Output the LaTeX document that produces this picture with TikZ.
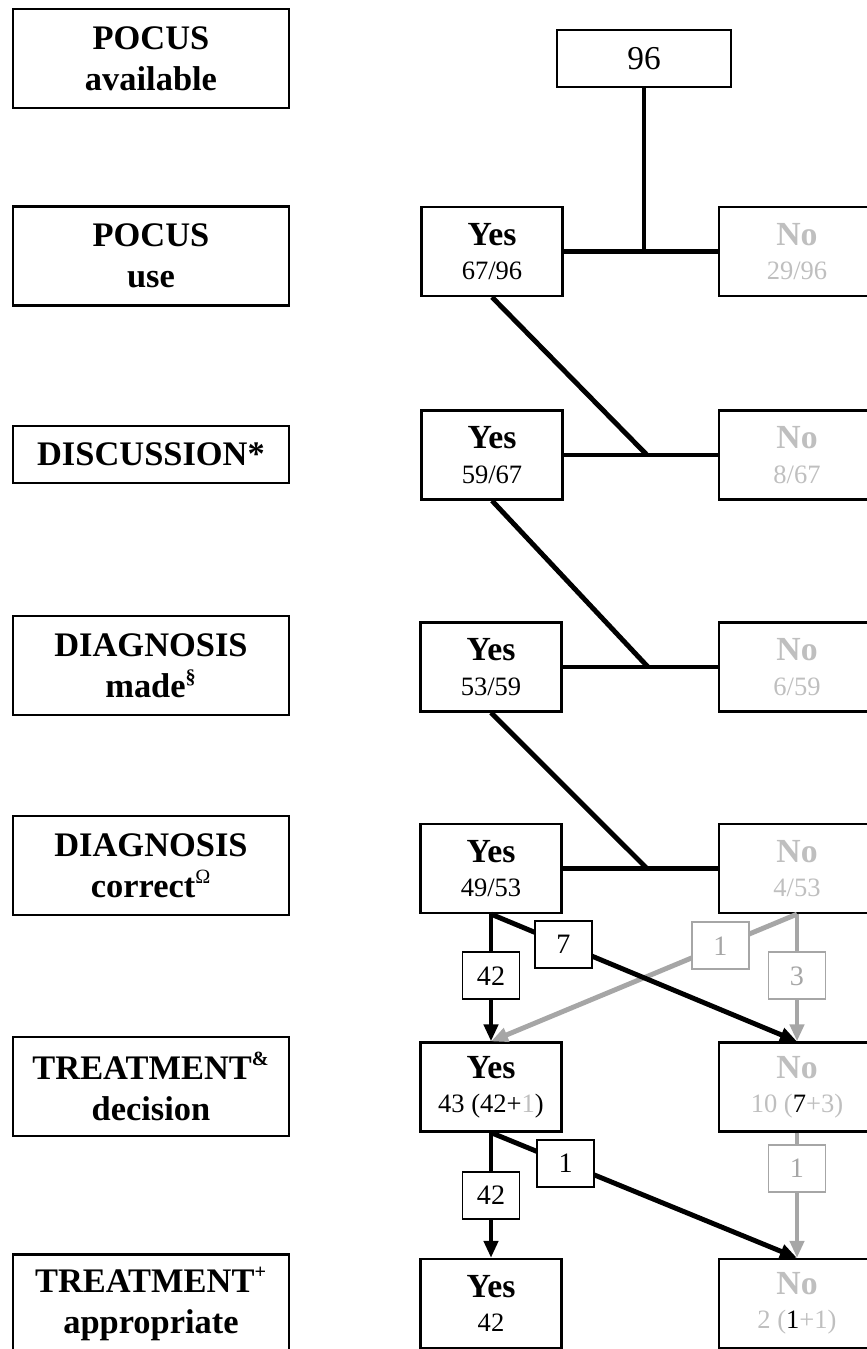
\documentclass[tikz,border=0pt]{standalone}
\usepackage{fontspec}
\setmainfont{Liberation Serif}
\usetikzlibrary{arrows.meta}
\definecolor{lightgrey}{RGB}{191,191,191}
\definecolor{midgrey}{RGB}{166,166,166}
\newcommand{\answer}[2]{{\bfseries\fontsize{19.2}{19.3}\selectfont #1}\\#2}
\newcommand{\footmark}[1]{\textsuperscript{\fontsize{11.5}{12}\selectfont #1}}

\begin{document}
\begin{tikzpicture}[x=0.02cm,y=-0.02cm,
    stage/.style={draw,line width=1.3pt,minimum width=5.52cm,minimum height=1.98cm,
      align=center,font=\bfseries\fontsize{19.6}{23.3}\selectfont},
    yesbox/.style={draw,line width=1.3pt,minimum width=2.82cm,minimum height=1.78cm,
      align=center,font=\fontsize{15.1}{19.6}\selectfont},
    nobox/.style={yesbox,minimum width=3.12cm,draw=black,text=lightgrey},
    count/.style={draw,fill=white,line width=1.1pt,minimum width=1.14cm,minimum height=0.94cm,
      inner sep=0pt,font=\fontsize{16}{18}\selectfont},
    flow/.style={line width=2.8pt},
    arrow/.style={flow,-{Triangle[length=0.34cm,width=0.28cm]}}]
  \useasboundingbox (0,0) rectangle (866,1349);

  % stages
  \node[stage] (avail) at (151,58.5) {POCUS\\available};
  \node[stage] (use) at (151,256) {POCUS\\use};
  \node[stage,minimum height=1.14cm] (disc) at (151,454.5) {DISCUSSION*};
  \node[stage] (made) at (151,665.5) {DIAGNOSIS\\made\footmark{§}};
  \node[stage] (correct) at (151,865.5) {DIAGNOSIS\\correct\footmark{\mdseries Ω}};
  \node[stage] (decision) at (151,1086.5) {TREATMENT\footmark{\&}\\decision};
  \node[stage] (approp) at (151,1304) {TREATMENT\footmark{+}\\appropriate};

  % counts
  \node[yesbox,minimum width=3.48cm,minimum height=1.14cm,font=\fontsize{19}{20}\selectfont]
    (total) at (644,58.5) {96};
  \node[yesbox] (yes1) at (492,251.5) {\answer{Yes}{67/96}};
  \node[nobox] (no1) at (797,251.5) {\answer{No}{29/96}};
  \node[yesbox] (yes2) at (492,455) {\answer{Yes}{59/67}};
  \node[nobox] (no2) at (797,455) {\answer{No}{8/67}};
  \node[yesbox] (yes3) at (491,667) {\answer{Yes}{53/59}};
  \node[nobox] (no3) at (797,667) {\answer{No}{6/59}};
  \node[yesbox] (yes4) at (491,868.5) {\answer{Yes}{49/53}};
  \node[nobox] (no4) at (797,868.5) {\answer{No}{4/53}};
  \node[yesbox] (yes5) at (491,1087) {\answer{Yes}{43 (42+\textcolor{lightgrey}{1})}};
  \node[nobox] (no5) at (797,1087) {\answer{No}{10 (\textcolor{black}{7}+3)}};
  \node[yesbox] (yes6) at (491,1303.5) {\answer{Yes}{42}};
  \node[nobox] (no6) at (797,1303.5) {\answer{No}{2 (\textcolor{black}{1}+1)}};

  % splits
  \coordinate (j1) at (644,251.5);
  \coordinate (j2) at (647,455);
  \coordinate (j3) at (648,667);
  \coordinate (j4) at (647,868.5);
  \draw[flow] (total) -- (j1);
  \draw[flow] (yes1) -- (no1);
  \draw[flow] (yes2) -- (no2);
  \draw[flow] (yes1.south) -- (j2);
  \draw[flow] (yes3) -- (no3);
  \draw[flow] (yes2.south) -- (j3);
  \draw[flow] (yes4) -- (no4);
  \draw[flow] (yes3.south) -- (j4);

  % treatment
  \draw[arrow,midgrey] (no4.south) -- node[count,pos=0.25] {1} (yes5.north);
  \draw[arrow,midgrey] (no4.south) -- node[count,pos=0.485] {3} (no5.north);
  \draw[arrow] (yes4.south) -- node[count,pos=0.485] {42} (yes5.north);
  \draw[arrow] (yes4.south) -- node[count,pos=0.237] {7} (no5.north);
  \draw[arrow,midgrey] (no5.south) -- node[count,pos=0.285] {1} (no6.north);
  \draw[arrow] (yes5.south) -- node[count,pos=0.5] {42} (yes6.north);
  \draw[arrow] (yes5.south) -- node[count,pos=0.244] {1} (no6.north);
\end{tikzpicture}
\end{document}
